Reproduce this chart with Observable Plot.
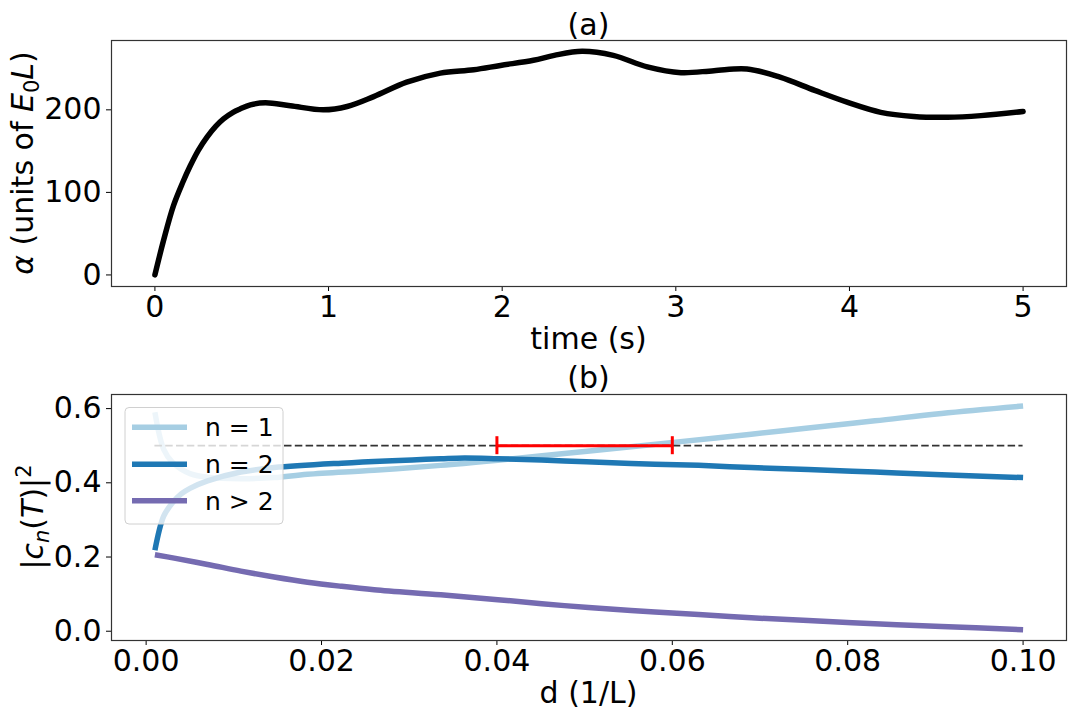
<!DOCTYPE html>
<html>
<head>
<meta charset="utf-8">
<script src="https://cdn.jsdelivr.net/npm/d3@7"></script>
<script src="https://cdn.jsdelivr.net/npm/@observablehq/plot@0.6"></script>
<style>
  html, body { margin: 0; padding: 0; background: #fff; }
  #chart { width: 1080px; height: 720px; font-family: "DejaVu Sans", sans-serif; }
  #chart svg { display: block; }
</style>
</head>
<body>
<div id="chart"></div>
<script>
// ---- panel (a): alpha versus time ----
const timeS = [0, 0.05, 0.107, 0.16, 0.203, 0.25, 0.30, 0.35, 0.395, 0.45, 0.49, 0.55, 0.636, 0.78, 0.97, 1.107, 1.26, 1.45, 1.644, 1.836, 1.99, 2.18, 2.3, 2.46, 2.64, 2.836, 3.03, 3.22, 3.41, 3.60, 3.80, 3.99, 4.18, 4.37, 4.565, 4.757, 5.0];
const alphaVals = [0, 42, 84, 112, 132, 151, 167, 180, 189, 197, 201, 206, 208.5, 205, 200, 204, 216, 233.5, 244.5, 248.5, 253.8, 260, 266, 271, 266, 252, 245, 247.5, 249.5, 239.5, 223.5, 209, 197, 192, 191, 193, 198];
const timeTicks = [0, 1, 2, 3, 4, 5];
const alphaTicks = [0, 100, 200];

// ---- panel (b): final-state populations versus d ----
const dN1 = [0.001, 0.002, 0.003, 0.004, 0.005, 0.007, 0.0108, 0.0146, 0.0184, 0.026, 0.0336, 0.0401, 0.0477, 0.0553, 0.0601, 0.069, 0.0755, 0.0831, 0.0907, 0.1];
const popN1 = [0.59, 0.49, 0.455, 0.437, 0.425, 0.415, 0.411, 0.414, 0.423, 0.434, 0.447, 0.461, 0.479, 0.497, 0.509, 0.531, 0.548, 0.567, 0.587, 0.607];
const dN2 = [0.001, 0.002, 0.003, 0.004, 0.005, 0.007, 0.0108, 0.0146, 0.0223, 0.0336, 0.0363, 0.0401, 0.0477, 0.0553, 0.063, 0.069, 0.0755, 0.0831, 0.0907, 0.1];
const popN2 = [0.218, 0.31, 0.346, 0.37, 0.385, 0.405, 0.429, 0.441, 0.453, 0.465, 0.467, 0.465, 0.459, 0.452, 0.447, 0.441, 0.436, 0.429, 0.422, 0.414];
const dN3 = [0.001, 0.0032, 0.007, 0.0108, 0.0146, 0.0184, 0.0223, 0.026, 0.0336, 0.0401, 0.0477, 0.0553, 0.063, 0.069, 0.0755, 0.0831, 0.0907, 0.1];
const popN3 = [0.206, 0.197, 0.180, 0.162, 0.146, 0.132, 0.121, 0.112, 0.098, 0.085, 0.069, 0.056, 0.045, 0.036, 0.029, 0.020, 0.013, 0.004];
const seriesNames = ["n = 1", "n = 2", "n > 2"];
const seriesColors = ["#a6cee3", "#1f78b4", "#756bb1"];
const dTicks = [0, 0.02, 0.04, 0.06, 0.08, 0.10];
const popTicks = [0, 0.2, 0.4, 0.6];
const threshold = 0.5;
const thresholdSpan = [0.001, 0.1];
const windowCenter = 0.05;
const windowHalfWidth = 0.01;

const FONT = "DejaVu Sans";
const FS = 30;
const LW = 5.5;
const W = 1080, H = 360;
const M = {left: 111, right: 14};

const toRows = (xs, ys, name) => xs.map((x, i) => ({x, y: ys[i], name}));
const alphaRows = toRows(timeS, alphaVals, "alpha");
const popSeries = [toRows(dN1, popN1, seriesNames[0]), toRows(dN2, popN2, seriesNames[1]), toRows(dN3, popN3, seriesNames[2])];

const baseStyle = {fontFamily: FONT, fontSize: FS + "px", color: "black", background: "white", overflow: "visible"};

// Panel (a)
const chartA = Plot.plot({
  width: W, height: H,
  marginLeft: M.left, marginRight: M.right, marginTop: 40, marginBottom: 74,
  style: baseStyle,
  x: {domain: [-0.25, 5.25], ticks: timeTicks, tickSize: 5, tickPadding: 4, label: null, tickFormat: d3.format("d")},
  y: {domain: [-14, 284], ticks: alphaTicks, tickSize: 5, tickPadding: 5, label: null, tickFormat: d3.format("d")},
  marks: [
    Plot.line(alphaRows, {x: "x", y: "y", stroke: "black", strokeWidth: LW, curve: "catmull-rom"}),
    Plot.frame({stroke: "#333", strokeWidth: 1.2})
  ]
});

// Panel (b)
const chartB = Plot.plot({
  width: W, height: H,
  marginLeft: M.left, marginRight: M.right, marginTop: 34, marginBottom: 80,
  style: baseStyle,
  x: {domain: [-0.00395, 0.10495], ticks: dTicks, tickSize: 5, tickPadding: 4, label: null, tickFormat: d3.format(".2f")},
  y: {domain: [-0.025, 0.638], ticks: popTicks, tickSize: 5, tickPadding: 5, label: null, tickFormat: d3.format(".1f")},
  marks: [
    ...popSeries.map((rows, i) => Plot.line(rows, {x: "x", y: "y", stroke: seriesColors[i], strokeWidth: LW, curve: "catmull-rom", strokeLinecap: "butt"})),
    Plot.ruleY([threshold], {x1: thresholdSpan[0], x2: thresholdSpan[1], stroke: "#333", strokeWidth: 1.7, strokeDasharray: "7.5,3.3"}),
    Plot.ruleY([threshold], {x1: windowCenter - windowHalfWidth, x2: windowCenter + windowHalfWidth, stroke: "red", strokeWidth: 3}),
    Plot.ruleX([windowCenter - windowHalfWidth, windowCenter + windowHalfWidth], {y1: threshold, y2: threshold, insetTop: -9, insetBottom: -9, stroke: "red", strokeWidth: 3}),
    Plot.frame({stroke: "#333", strokeWidth: 1.2})
  ]
});

const root = document.getElementById("chart");
root.appendChild(chartA);
root.appendChild(chartB);

const cx = (M.left + W - M.right) / 2;

// Titles and axis labels
function addText(svg, x, y, str, size) {
  return d3.select(svg).append("text")
    .attr("x", x).attr("y", y).attr("text-anchor", "middle")
    .attr("font-family", FONT).attr("font-size", size).attr("fill", "black").text(str);
}
addText(chartA, cx, 34.5, "(a)", FS);
addText(chartA, cx, 349, "time (s)", FS);
addText(chartB, cx, 28, "(b)", FS);
addText(chartB, cx, 343, "d (1/L)", FS);

// y label of (a): α (units of E₀L)
{
  const t = d3.select(chartA).append("text")
    .attr("transform", "translate(33,163) rotate(-90)")
    .attr("text-anchor", "middle").attr("font-family", FONT).attr("font-size", FS).attr("fill", "black");
  t.append("tspan").attr("font-style", "italic").text("α");
  t.append("tspan").text(" (units of ");
  t.append("tspan").attr("font-style", "italic").text("E");
  t.append("tspan").attr("font-size", 21).attr("dy", 6).text("0");
  t.append("tspan").attr("font-style", "italic").attr("dy", -6).text("L");
  t.append("tspan").text(")");
}
// y label of (b): |c_n(T)|²
{
  const t = d3.select(chartB).append("text")
    .attr("transform", "translate(43,157) rotate(-90)")
    .attr("text-anchor", "middle").attr("font-family", FONT).attr("font-size", FS).attr("fill", "black");
  t.append("tspan").text("|");
  t.append("tspan").attr("font-style", "italic").text("c");
  t.append("tspan").attr("font-style", "italic").attr("font-size", 21).attr("dy", 6).text("n");
  t.append("tspan").attr("dy", -6).text("(");
  t.append("tspan").attr("font-style", "italic").text("T");
  t.append("tspan").text(")|");
  t.append("tspan").attr("font-size", 21).attr("dy", -12).text("2");
}

// Legend for (b), drawn over the lines with a translucent box
{
  const g = d3.select(chartB).append("g").attr("text-anchor", "start");
  g.append("rect").attr("x", 125).attr("y", 47.5).attr("width", 158).attr("height", 116.5)
    .attr("rx", 4).attr("fill", "white").attr("fill-opacity", 0.8)
    .attr("stroke", "#d0d0d0").attr("stroke-width", 1);
  const rowY = [67.3, 104.3, 140.7];
  seriesNames.forEach((name, i) => {
    g.append("line").attr("x1", 132).attr("x2", 187).attr("y1", rowY[i]).attr("y2", rowY[i])
      .attr("stroke", seriesColors[i]).attr("stroke-width", LW);
    g.append("text").attr("x", 205).attr("y", rowY[i] + 9).attr("text-anchor", "start")
      .attr("font-family", FONT).attr("font-size", 25).attr("fill", "black").text(name);
  });
}
</script>
</body>
</html>
